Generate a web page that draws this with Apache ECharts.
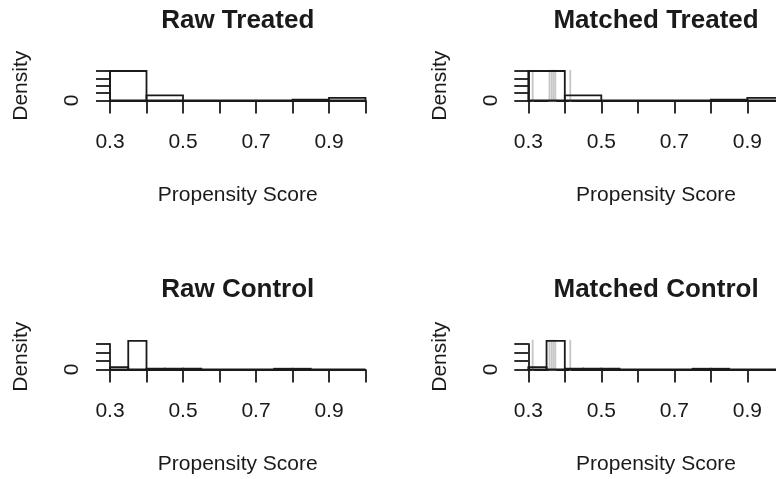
<!DOCTYPE html>
<html>
<head>
<meta charset="utf-8">
<script src="https://cdn.jsdelivr.net/npm/echarts@6/dist/echarts.min.js"></script>
<style>
  html, body { margin: 0; padding: 0; background: #ffffff; }
  #chart { width: 776px; height: 479px; }
</style>
</head>
<body>
<div id="chart"></div>
<script>
// Panel headings and axis texts
const panelTitles = ['Raw Treated', 'Matched Treated', 'Raw Control', 'Matched Control'];
const xAxisTitle = 'Propensity Score';
const yAxisTitle = 'Density';
const xTickLabels = ['0.3', '0.5', '0.7', '0.9'];
const yTickLabels = ['0'];

// Histogram breaks (bin edges) and densities
const treatedBreaks = [0.3, 0.4, 0.5, 0.6, 0.7, 0.8, 0.9, 1.0];
const rawTreatedDensity = [8.0, 1.4, 0, 0, 0, 0.25, 0.7];
const matchedTreatedDensity = [8.0, 1.4, 0, 0, 0, 0.25, 0.7];

const controlBreaks = [0.30, 0.35, 0.40, 0.45, 0.50, 0.55, 0.60, 0.65, 0.70, 0.75, 0.80, 0.85, 0.90, 0.95, 1.00];
const rawControlDensity = [1.4, 16.8, 0.5, 0.5, 0.5, 0, 0, 0, 0, 0.45, 0.45, 0, 0, 0];
const matchedControlDensity = [1.4, 16.8, 0.5, 0.5, 0.5, 0, 0, 0, 0, 0.45, 0.45, 0, 0, 0];

// Scores of matched units, shown as light vertical rules in the matched panels
const matchedScoreLines = [0.312, 0.358, 0.364, 0.369, 0.374, 0.415];

// Y axis extents / tick steps for the top and bottom rows
const treatedYMax = 8, treatedYStep = 2;
const controlYMax = 15, controlYStep = 5;

const FONT = "'Liberation Sans', Arial, sans-serif";
const INK = '#1a1a1a';
const LW = 1.8;

function binsOf(breaks, dens) {
  return dens.map((d, i) => [breaks[i], breaks[i + 1], d]);
}

const PANEL_W = 255.5;

// top/height place the zero line of each panel; titles sit a fixed distance above it
const panels = [
  { title: panelTitles[0], bins: binsOf(treatedBreaks, rawTreatedDensity), yMax: treatedYMax, yStep: treatedYStep, rules: null, top: 71, height: 29.5, left: 110 },
  { title: panelTitles[1], bins: binsOf(treatedBreaks, matchedTreatedDensity), yMax: treatedYMax, yStep: treatedYStep, rules: matchedScoreLines, top: 71, height: 29.5, left: 528.3 },
  { title: panelTitles[2], bins: binsOf(controlBreaks, rawControlDensity), yMax: controlYMax, yStep: controlYStep, rules: null, top: 344, height: 25.5, left: 110 },
  { title: panelTitles[3], bins: binsOf(controlBreaks, matchedControlDensity), yMax: controlYMax, yStep: controlYStep, rules: matchedScoreLines, top: 344, height: 25.5, left: 528.3 }
];

const grid = [], xAxis = [], yAxis = [], series = [], title = [];

panels.forEach((p, i) => {
  const baseline = p.top + p.height;
  grid.push({ left: p.left, top: p.top, width: PANEL_W, height: p.height,
              containLabel: false, outerBoundsMode: 'none' });

  title.push({
    text: p.title,
    left: p.left + PANEL_W / 2,
    top: baseline - 93,
    textAlign: 'center',
    padding: 0,
    textStyle: { fontFamily: FONT, fontSize: 26, fontWeight: 'bold', color: INK }
  });

  xAxis.push({
    type: 'value', gridIndex: i, min: 0.3, max: 1.0, interval: 0.1,
    name: xAxisTitle, nameLocation: 'middle', nameGap: 84,
    nameTextStyle: { fontFamily: FONT, fontSize: 21, color: INK },
    axisLine: { show: true, onZero: false, lineStyle: { color: INK, width: LW } },
    axisTick: { show: true, length: 13, lineStyle: { color: INK, width: LW } },
    axisLabel: {
      margin: 31, fontFamily: FONT, fontSize: 21, color: INK,
      formatter: v => { const s = v.toFixed(1); return xTickLabels.includes(s) ? s : ''; }
    },
    splitLine: { show: false }
  });

  yAxis.push({
    type: 'value', gridIndex: i, min: 0, max: p.yMax, interval: p.yStep,
    name: yAxisTitle, nameLocation: 'middle', nameGap: 78, nameRotate: 90,
    nameTextStyle: { fontFamily: FONT, fontSize: 21, color: INK },
    axisLine: { show: true, lineStyle: { color: INK, width: LW } },
    axisTick: { show: true, length: 14, lineStyle: { color: INK, width: LW } },
    axisLabel: {
      rotate: 90, margin: 27, fontFamily: FONT, fontSize: 21, color: INK,
      formatter: v => { const s = String(v); return yTickLabels.includes(s) ? s : ''; }
    },
    splitLine: { show: false }
  });

  if (p.rules) {
    const hiVal = p.bins.reduce((m, b) => Math.max(m, b[2]), 0);
    series.push({
      type: 'custom', xAxisIndex: i, yAxisIndex: i, silent: true,
      data: p.rules.map(x => [x]),
      renderItem: (params, api) => {
        const a = api.coord([api.value(0), -0.04 * hiVal]);
        const b = api.coord([api.value(0), 1.04 * hiVal]);
        return { type: 'line', shape: { x1: a[0], y1: a[1], x2: b[0], y2: b[1] },
                 style: { stroke: '#c6c6c6', lineWidth: 1.8 } };
      },
      z: 1
    });
  }

  series.push({
    type: 'custom', xAxisIndex: i, yAxisIndex: i, silent: true,
    data: p.bins,
    encode: { x: [0, 1], y: 2 },
    renderItem: (params, api) => {
      const p0 = api.coord([api.value(0), 0]);
      const p1 = api.coord([api.value(1), api.value(2)]);
      return {
        type: 'rect',
        shape: { x: p0[0], y: p1[1], width: p1[0] - p0[0], height: p0[1] - p1[1] },
        style: { fill: 'none', stroke: INK, lineWidth: LW }
      };
    },
    z: 2
  });
});

const chart = echarts.init(document.getElementById('chart'), null, { renderer: 'canvas' });
chart.setOption({
  animation: false,
  backgroundColor: '#ffffff',
  title, grid, xAxis, yAxis, series
});
</script>
</body>
</html>
